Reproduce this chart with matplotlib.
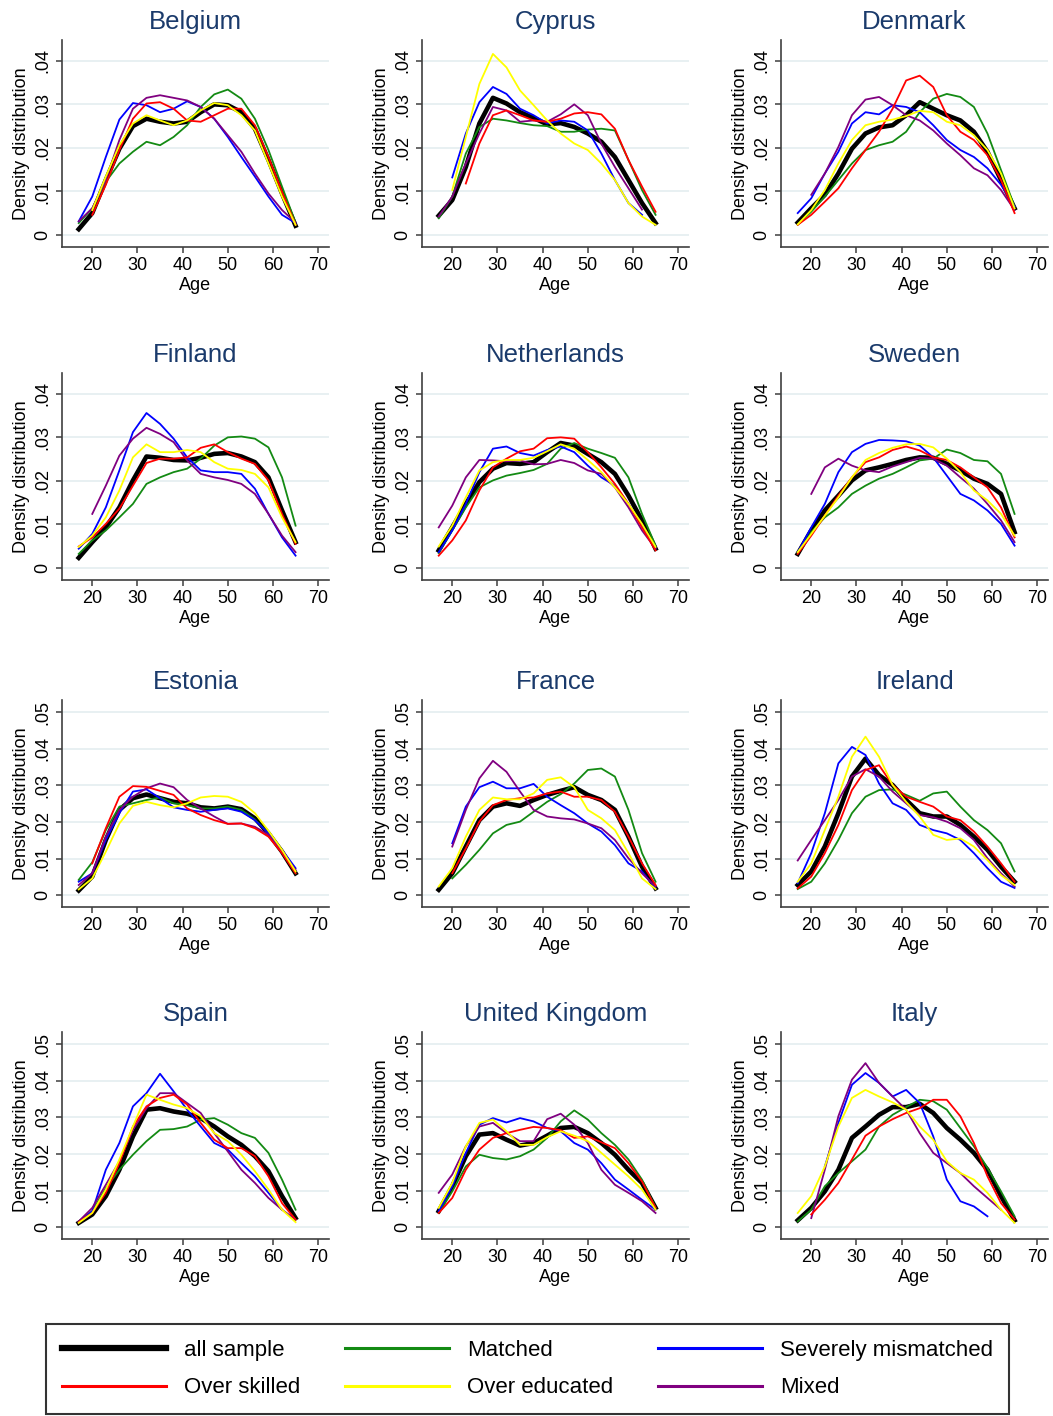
import numpy as np
import matplotlib
matplotlib.use('Agg')
import matplotlib.pyplot as plt
from matplotlib.lines import Line2D

plt.rcParams['font.family'] = ['Liberation Sans', 'DejaVu Sans']

# age grid used for every curve (densities in thousandths)
AGES = [17, 20, 23, 26, 29, 32, 35, 38, 41, 44, 47, 50, 53, 56, 59, 62, 65]

COUNTRIES = ['Belgium', 'Cyprus', 'Denmark',
             'Finland', 'Netherlands', 'Sweden',
             'Estonia', 'France', 'Ireland',
             'Spain', 'United Kingdom', 'Italy']

SERIES = ['all', 'skilled', 'matched', 'educated', 'severe', 'mixed']
LABELS = ['all sample', 'Over skilled', 'Matched', 'Over educated',
          'Severely mismatched', 'Mixed']

belgium = {
    'all':      [1.3, 5.0, 12.6, 19.8, 25.0, 26.7, 26.0, 25.6, 26.0, 28.2, 30.0, 29.8, 28.2, 24.4, 17.2, 9.5, 2.1],
    'matched':  [2.7, 6.1, 12.2, 16.4, 19.1, 21.4, 20.6, 22.5, 25.2, 29.4, 32.3, 33.4, 31.3, 26.7, 19.5, 11.1, 2.8],
    'severe':   [3.1, 8.8, 17.9, 26.5, 30.3, 29.8, 28.2, 29.0, 30.7, 29.4, 26.7, 22.5, 17.9, 13.4, 8.8, 4.6, 2.7],
    'skilled':  [None, 4.6, 11.5, 19.5, 26.7, 30.2, 30.5, 29.0, 26.3, 26.0, 27.5, 29.0, 29.0, 25.2, 17.9, 9.9, 2.3],
    'educated': [None, 5.7, 13.4, 20.6, 25.6, 27.5, 26.3, 25.2, 26.3, 28.6, 30.3, 29.8, 27.5, 24.0, 16.4, 8.8, 2.3],
    'mixed':    [3.1, 6.1, 12.6, 21.8, 29.0, 31.5, 32.1, 31.5, 30.9, 29.4, 26.7, 22.9, 19.1, 14.1, 9.5, 5.7, 2.8],
}
cyprus = {
    'all':      [4.4, 8.0, 15.6, 25.6, 31.5, 30.2, 28.2, 26.9, 25.4, 25.7, 24.8, 23.3, 21.4, 17.9, 12.6, 7.3, 2.7],
    'matched':  [3.8, 8.8, 18.7, 24.8, 26.7, 26.3, 25.7, 25.2, 25.0, 23.7, 23.7, 24.2, 24.4, 24.0, 17.2, 10.3, 4.6],
    'severe':   [None, 13.2, 23.3, 30.5, 34.0, 32.4, 29.0, 27.5, 25.6, 26.3, 26.0, 24.0, 18.7, 12.6, 7.3, 4.6, None],
    'skilled':  [None, None, 11.8, 21.0, 27.5, 28.6, 27.5, 26.3, 26.0, 26.7, 27.9, 28.2, 27.7, 24.4, 17.2, 11.1, 5.3],
    'educated': [None, 10.3, 22.5, 34.7, 41.6, 38.5, 33.2, 29.8, 26.3, 23.3, 21.0, 19.5, 16.4, 12.6, 7.3, 4.2, 2.3],
    'mixed':    [4.2, 8.8, 16.4, 23.3, 29.4, 28.6, 26.0, 26.3, 26.0, 27.7, 30.0, 27.5, 21.0, 15.6, 10.7, 5.8, None],
}
denmark = {
    'all':      [2.8, 6.1, 9.2, 14.1, 19.8, 23.3, 24.7, 25.2, 27.5, 30.5, 29.0, 27.5, 26.3, 23.7, 19.1, 12.6, 6.1],
    'matched':  [2.4, 5.3, 8.8, 12.6, 16.4, 19.5, 20.6, 21.4, 23.7, 28.2, 31.3, 32.4, 31.7, 29.4, 23.3, 14.9, 6.5],
    'severe':   [5.0, 8.4, 14.1, 19.1, 25.6, 28.2, 27.7, 29.8, 29.4, 28.2, 25.2, 21.8, 19.5, 17.9, 15.3, 11.5, 6.5],
    'skilled':  [2.3, 4.6, 7.6, 10.7, 15.3, 19.5, 23.7, 29.0, 35.5, 36.6, 34.0, 27.5, 23.7, 21.8, 18.3, 12.6, 5.0],
    'educated': [2.4, 5.7, 10.3, 16.4, 21.8, 25.2, 26.0, 26.5, 27.3, 28.5, 28.2, 26.0, 25.2, 22.9, 19.5, 14.1, 6.1],
    'mixed':    [None, 9.2, 14.1, 20.2, 27.5, 31.1, 31.7, 29.8, 27.5, 26.3, 24.0, 21.0, 18.3, 15.3, 13.7, 10.3, 5.7],
}
finland = {
    'all':      [2.3, 5.9, 9.3, 13.9, 20.1, 25.6, 25.3, 24.8, 24.7, 25.3, 26.2, 26.4, 25.6, 24.3, 20.8, 13.2, 5.9],
    'matched':  [3.2, 6.3, 8.6, 11.6, 14.7, 19.3, 20.8, 22.0, 22.8, 25.1, 28.1, 30.0, 30.2, 29.7, 27.7, 20.8, 9.7],
    'severe':   [4.4, 7.8, 13.9, 22.4, 31.2, 35.6, 33.1, 29.7, 25.4, 22.4, 22.0, 22.0, 21.6, 18.2, 12.4, 7.0, 2.8],
    'skilled':  [4.9, 7.0, 10.1, 13.6, 18.9, 24.1, 25.1, 25.1, 25.4, 27.6, 28.4, 26.6, 25.1, 23.9, 20.1, 12.4, 5.5],
    'educated': [4.8, 7.4, 11.6, 17.8, 25.4, 28.4, 26.6, 26.6, 27.1, 26.6, 24.3, 22.8, 22.5, 21.6, 18.5, 11.6, 5.9],
    'mixed':    [None, 12.4, 18.9, 25.8, 29.7, 32.2, 30.8, 28.9, 24.7, 21.6, 20.8, 20.2, 19.3, 17.0, 12.4, 7.4, 3.6],
}
netherlands = {
    'all':      [4.0, 9.3, 14.7, 19.7, 22.8, 24.1, 23.9, 24.3, 26.6, 28.7, 28.1, 26.2, 24.3, 21.6, 16.6, 10.9, 4.4],
    'matched':  [3.4, 8.6, 13.9, 18.5, 20.1, 21.2, 21.8, 22.5, 23.9, 27.4, 28.7, 27.4, 26.4, 25.3, 20.8, 12.4, 5.1],
    'severe':   [3.6, 8.6, 14.7, 22.0, 27.4, 27.9, 26.4, 25.8, 27.1, 27.9, 26.6, 23.5, 20.8, 18.9, 14.7, 9.7, 4.4],
    'skilled':  [2.8, 6.3, 10.9, 17.8, 23.1, 25.1, 26.8, 27.4, 29.8, 30.0, 29.7, 26.6, 23.1, 19.3, 14.7, 9.3, 4.0],
    'educated': [4.9, 9.7, 16.2, 22.4, 24.3, 24.8, 24.8, 25.3, 26.8, 28.4, 27.4, 24.8, 22.0, 18.5, 14.7, 10.1, 4.8],
    'mixed':    [9.3, 14.3, 20.8, 24.8, 24.7, 24.5, 24.7, 23.8, 23.9, 24.8, 24.1, 22.4, 21.6, 18.5, 13.9, 8.6, 4.4],
}
sweden = {
    'all':      [3.2, 8.6, 13.2, 16.6, 20.1, 22.4, 23.1, 23.9, 24.8, 25.4, 25.3, 23.9, 22.4, 20.5, 19.3, 17.0, 8.2],
    'matched':  [3.4, 8.2, 11.6, 13.9, 17.0, 18.9, 20.5, 21.6, 23.1, 24.7, 25.1, 27.2, 26.4, 24.8, 24.5, 21.6, 12.4],
    'severe':   [3.6, 9.3, 14.7, 22.0, 26.6, 28.5, 29.4, 29.3, 29.1, 28.1, 25.4, 21.2, 17.0, 15.5, 13.2, 10.1, 5.1],
    'skilled':  [3.2, 7.4, 12.0, 16.6, 20.8, 24.3, 25.4, 27.1, 27.9, 27.0, 25.4, 24.8, 23.1, 20.8, 18.5, 13.9, 7.0],
    'educated': [3.6, 7.8, 12.0, 16.2, 20.8, 24.8, 26.4, 27.6, 28.4, 28.5, 27.7, 25.1, 22.0, 17.8, 15.5, 12.4, 7.4],
    'mixed':    [None, 17.0, 23.1, 25.1, 23.5, 22.4, 22.0, 23.3, 24.3, 25.3, 25.1, 23.5, 20.8, 18.2, 14.7, 10.9, 5.9],
}
estonia = {
    'all':      [1.3, 5.1, 15.1, 23.3, 26.5, 27.5, 26.5, 25.5, 25.1, 24.0, 23.7, 24.2, 23.5, 21.0, 16.9, 11.9, 6.0],
    'matched':  [4.2, 9.0, 17.8, 24.2, 25.1, 26.0, 26.7, 25.1, 24.6, 23.7, 23.7, 24.2, 23.3, 20.7, 16.9, 11.9, 6.0],
    'severe':   [3.7, 6.0, 15.1, 22.4, 28.3, 28.9, 26.5, 24.0, 23.3, 22.8, 23.3, 23.7, 22.8, 20.5, 16.9, 12.4, 7.4],
    'skilled':  [None, 8.7, 18.3, 26.9, 29.8, 29.6, 28.5, 27.4, 23.7, 21.9, 20.5, 19.5, 19.6, 18.3, 16.0, 11.5, 6.0],
    'educated': [1.6, 4.6, 11.9, 19.6, 24.4, 25.5, 24.6, 24.0, 25.1, 26.7, 27.1, 26.9, 25.5, 22.4, 17.6, 12.4, 6.5],
    'mixed':    [2.8, 6.0, 16.0, 23.3, 26.9, 29.2, 30.5, 29.5, 26.0, 23.7, 21.5, 19.5, 19.6, 18.7, 16.5, 11.9, 6.9],
}
france = {
    'all':      [1.5, 6.0, 13.3, 20.5, 24.2, 25.1, 24.4, 26.0, 27.4, 28.5, 29.5, 27.4, 26.0, 23.3, 16.0, 7.8, 1.9],
    'matched':  [None, 4.6, 8.3, 12.4, 16.9, 19.2, 20.1, 22.8, 25.5, 27.6, 30.5, 34.2, 34.6, 32.4, 23.3, 11.5, 3.7],
    'severe':   [None, 14.2, 24.2, 29.5, 31.0, 29.2, 29.2, 30.4, 26.9, 24.6, 22.4, 19.6, 17.4, 13.7, 8.7, 6.5, 1.9],
    'skilled':  [None, 6.0, 12.8, 20.1, 24.6, 26.0, 26.5, 26.7, 27.8, 28.3, 26.9, 26.9, 26.0, 22.8, 16.0, 8.7, 2.8],
    'educated': [2.4, 7.4, 16.0, 23.3, 26.7, 26.2, 26.2, 27.8, 31.5, 32.2, 29.5, 23.3, 21.0, 17.8, 11.5, 4.6, 1.7],
    'mixed':    [None, 13.3, 23.3, 31.9, 36.7, 33.7, 28.3, 23.3, 21.5, 21.0, 20.7, 19.6, 18.3, 15.1, 10.1, 6.0, 2.4],
}
ireland = {
    'all':      [2.8, 6.5, 13.3, 22.4, 32.4, 37.3, 32.8, 30.1, 26.0, 22.4, 21.5, 21.5, 19.2, 16.0, 12.4, 7.8, 3.7],
    'matched':  [1.7, 3.7, 8.7, 15.1, 22.4, 26.9, 28.7, 28.9, 27.4, 25.8, 27.8, 28.3, 24.2, 20.5, 17.8, 14.2, 6.5],
    'severe':   [3.3, 11.5, 22.4, 36.0, 40.5, 38.3, 30.5, 25.1, 23.3, 19.2, 17.8, 16.9, 15.1, 11.5, 7.4, 3.7, 2.0],
    'skilled':  [1.9, 5.1, 11.5, 19.2, 28.7, 34.2, 35.5, 30.1, 26.9, 25.5, 24.2, 21.5, 20.5, 17.4, 13.3, 8.7, 3.7],
    'educated': [3.7, 8.7, 17.8, 26.9, 37.8, 43.3, 37.8, 30.1, 25.5, 21.5, 16.5, 15.1, 15.5, 13.3, 9.6, 5.5, 2.8],
    'mixed':    [9.5, 15.1, 20.5, 26.0, 32.4, 34.4, 32.4, 28.3, 25.1, 21.9, 21.3, 20.1, 18.3, 15.1, 10.1, 6.0, 2.4],
}
spain = {
    'all':      [1.2, 3.5, 8.5, 15.7, 24.8, 32.1, 32.5, 31.6, 31.0, 29.8, 27.5, 24.8, 22.5, 19.4, 15.3, 8.5, 2.5],
    'matched':  [1.6, 4.4, 10.7, 15.7, 19.8, 23.5, 26.6, 26.8, 27.5, 29.4, 29.8, 28.0, 25.7, 24.4, 20.3, 13.0, 4.8],
    'severe':   [1.4, 4.4, 15.7, 23.0, 33.0, 36.6, 41.9, 37.1, 32.1, 27.5, 23.0, 21.2, 17.5, 13.9, 9.4, 4.8, None],
    'skilled':  [1.4, 3.9, 9.4, 17.5, 27.5, 33.0, 35.3, 36.2, 33.5, 28.5, 23.9, 21.6, 21.6, 19.4, 13.9, 6.6, 2.1],
    'educated': [1.2, 3.9, 10.3, 18.5, 27.5, 36.2, 34.8, 33.5, 32.5, 30.3, 25.7, 23.5, 19.8, 15.3, 10.3, 4.8, 1.4],
    'mixed':    [1.6, 5.3, 11.6, 18.0, 26.6, 32.5, 36.6, 36.6, 33.9, 31.2, 25.7, 20.7, 15.7, 12.1, 8.0, 4.8, 2.1],
}
united_kingdom = {
    'all':      [4.4, 11.2, 19.4, 25.3, 25.7, 23.9, 22.3, 23.0, 25.0, 27.1, 27.4, 25.7, 23.0, 19.8, 15.7, 12.1, 5.3],
    'matched':  [3.9, 9.8, 16.6, 19.8, 18.9, 18.5, 19.4, 21.2, 24.4, 28.9, 31.9, 29.4, 25.7, 22.5, 18.5, 13.0, 5.3],
    'severe':   [4.4, 11.2, 20.3, 28.0, 29.8, 28.6, 29.8, 28.9, 27.1, 26.2, 23.0, 21.2, 17.5, 13.0, 10.3, 7.5, 4.8],
    'skilled':  [3.9, 8.0, 15.7, 21.2, 24.4, 25.7, 26.6, 27.4, 27.1, 26.5, 24.4, 24.8, 23.2, 21.6, 17.5, 12.5, 5.3],
    'educated': [5.3, 12.1, 22.1, 28.5, 29.4, 26.2, 22.5, 22.5, 24.6, 26.2, 25.0, 23.5, 20.3, 17.1, 13.9, 10.3, 4.8],
    'mixed':    [9.4, 14.4, 22.1, 27.5, 28.5, 25.7, 23.5, 23.5, 29.5, 31.0, 28.0, 23.0, 15.7, 11.6, 9.4, 7.1, 3.9],
}
italy = {
    'all':      [1.9, 5.3, 9.8, 15.7, 24.4, 27.5, 30.7, 32.8, 32.8, 33.7, 31.2, 27.1, 23.9, 20.3, 15.7, 8.5, 1.9],
    'matched':  [1.6, 4.8, 11.2, 14.8, 18.0, 21.2, 27.5, 30.7, 32.8, 34.8, 34.4, 32.1, 27.1, 22.1, 16.2, 9.8, 3.0],
    'severe':   [None, None, 16.6, 28.5, 38.9, 42.1, 39.4, 35.7, 37.5, 33.9, 24.8, 13.0, 7.1, 5.7, 3.0, None, None],
    'skilled':  [None, 3.5, 7.5, 12.1, 18.5, 25.0, 27.5, 29.5, 31.2, 32.5, 34.8, 34.8, 30.3, 23.0, 13.9, 6.6, 2.1],
    'educated': [3.9, 8.5, 16.6, 27.5, 35.3, 37.5, 35.7, 34.1, 32.1, 27.5, 23.9, 18.0, 14.8, 13.0, 9.4, 4.8, 1.2],
    'mixed':    [None, 2.5, 15.7, 30.3, 40.3, 44.8, 39.4, 35.7, 32.1, 25.7, 20.3, 17.5, 14.8, 11.2, 8.0, 4.8, None],
}

PANELS = [belgium, cyprus, denmark, finland, netherlands, sweden,
          estonia, france, ireland, spain, united_kingdom, italy]

YTICKS_LOW = [0, .01, .02, .03, .04]
YLABELS_LOW = ['0', '.01', '.02', '.03', '.04']
YTICKS_HIGH = [0, .01, .02, .03, .04, .05]
YLABELS_HIGH = ['0', '.01', '.02', '.03', '.04', '.05']
XTICKS = [20, 30, 40, 50, 60, 70]

COLORS = {'all': 'black', 'skilled': '#ff0000', 'matched': '#138a13',
          'educated': '#ffff00', 'severe': '#0000ff', 'mixed': '#800080'}
# black drawn first, the others on top of it
DRAW_ORDER = ['all', 'matched', 'severe', 'mixed', 'skilled', 'educated']

W, H = 1053, 1416
fig = plt.figure(figsize=(W / 100, H / 100), dpi=100)

COL_LEFT = [62, 422, 781]
ROW_TOP = [40, 373, 700, 1032]
AX_W, AX_H = 267, 207
AXC = '#3f3f3f'

for i, (name, data) in enumerate(zip(COUNTRIES, PANELS)):
    r, c = divmod(i, 3)
    ax = fig.add_axes([COL_LEFT[c] / W, 1 - (ROW_TOP[r] + AX_H) / H, AX_W / W, AX_H / H])
    for key in DRAW_ORDER:
        y = np.array(data[key], dtype=float) / 1000
        if key == 'all':
            ax.plot(AGES, y, color='black', lw=3.3, solid_joinstyle='round', zorder=2)
        else:
            ax.plot(AGES, y, color=COLORS[key], lw=1.3, solid_joinstyle='round', zorder=3)

    if r < 2:
        ax.set_ylim(-0.0028, 0.0448)
        ax.set_yticks(YTICKS_LOW)
        ax.set_yticklabels(YLABELS_LOW, rotation=90, va='center')
    else:
        ax.set_ylim(-0.0032, 0.0533)
        ax.set_yticks(YTICKS_HIGH)
        ax.set_yticklabels(YLABELS_HIGH, rotation=90, va='center')
    ax.set_xlim(13.3, 72.4)
    ax.set_xticks(XTICKS)

    # light horizontal grid like the stata scheme
    ax.yaxis.grid(True, color='#e4edf0', lw=1.2)
    ax.set_axisbelow(True)
    for s in ['top', 'right']:
        ax.spines[s].set_visible(False)
    for s in ['left', 'bottom']:
        ax.spines[s].set_color(AXC)
        ax.spines[s].set_linewidth(1.2)
    ax.tick_params(axis='both', direction='out', length=4.5, width=1.1,
                   color=AXC, labelsize=13, pad=3)

    ax.set_title(name, fontsize=18.5, color='#1a3a6b', pad=8)
    ax.set_xlabel('Age', fontsize=13, labelpad=2)
    ax.set_ylabel('Density distribution', fontsize=13, labelpad=3)

handles = []
for key in SERIES:
    if key == 'all':
        handles.append(Line2D([], [], color='black', lw=4.5))
    else:
        handles.append(Line2D([], [], color=COLORS[key], lw=2.2))

leg = fig.legend(handles, LABELS, loc='center', bbox_to_anchor=(527.5 / W, 1 - 1369 / H),
                 ncol=3, fontsize=16, handlelength=4.7, handletextpad=0.8,
                 columnspacing=2.0, labelspacing=0.75, borderpad=0.7,
                 frameon=True, fancybox=False, edgecolor='black')
leg.get_frame().set_linewidth(1.5)

fig.savefig('out.png', dpi=100)
